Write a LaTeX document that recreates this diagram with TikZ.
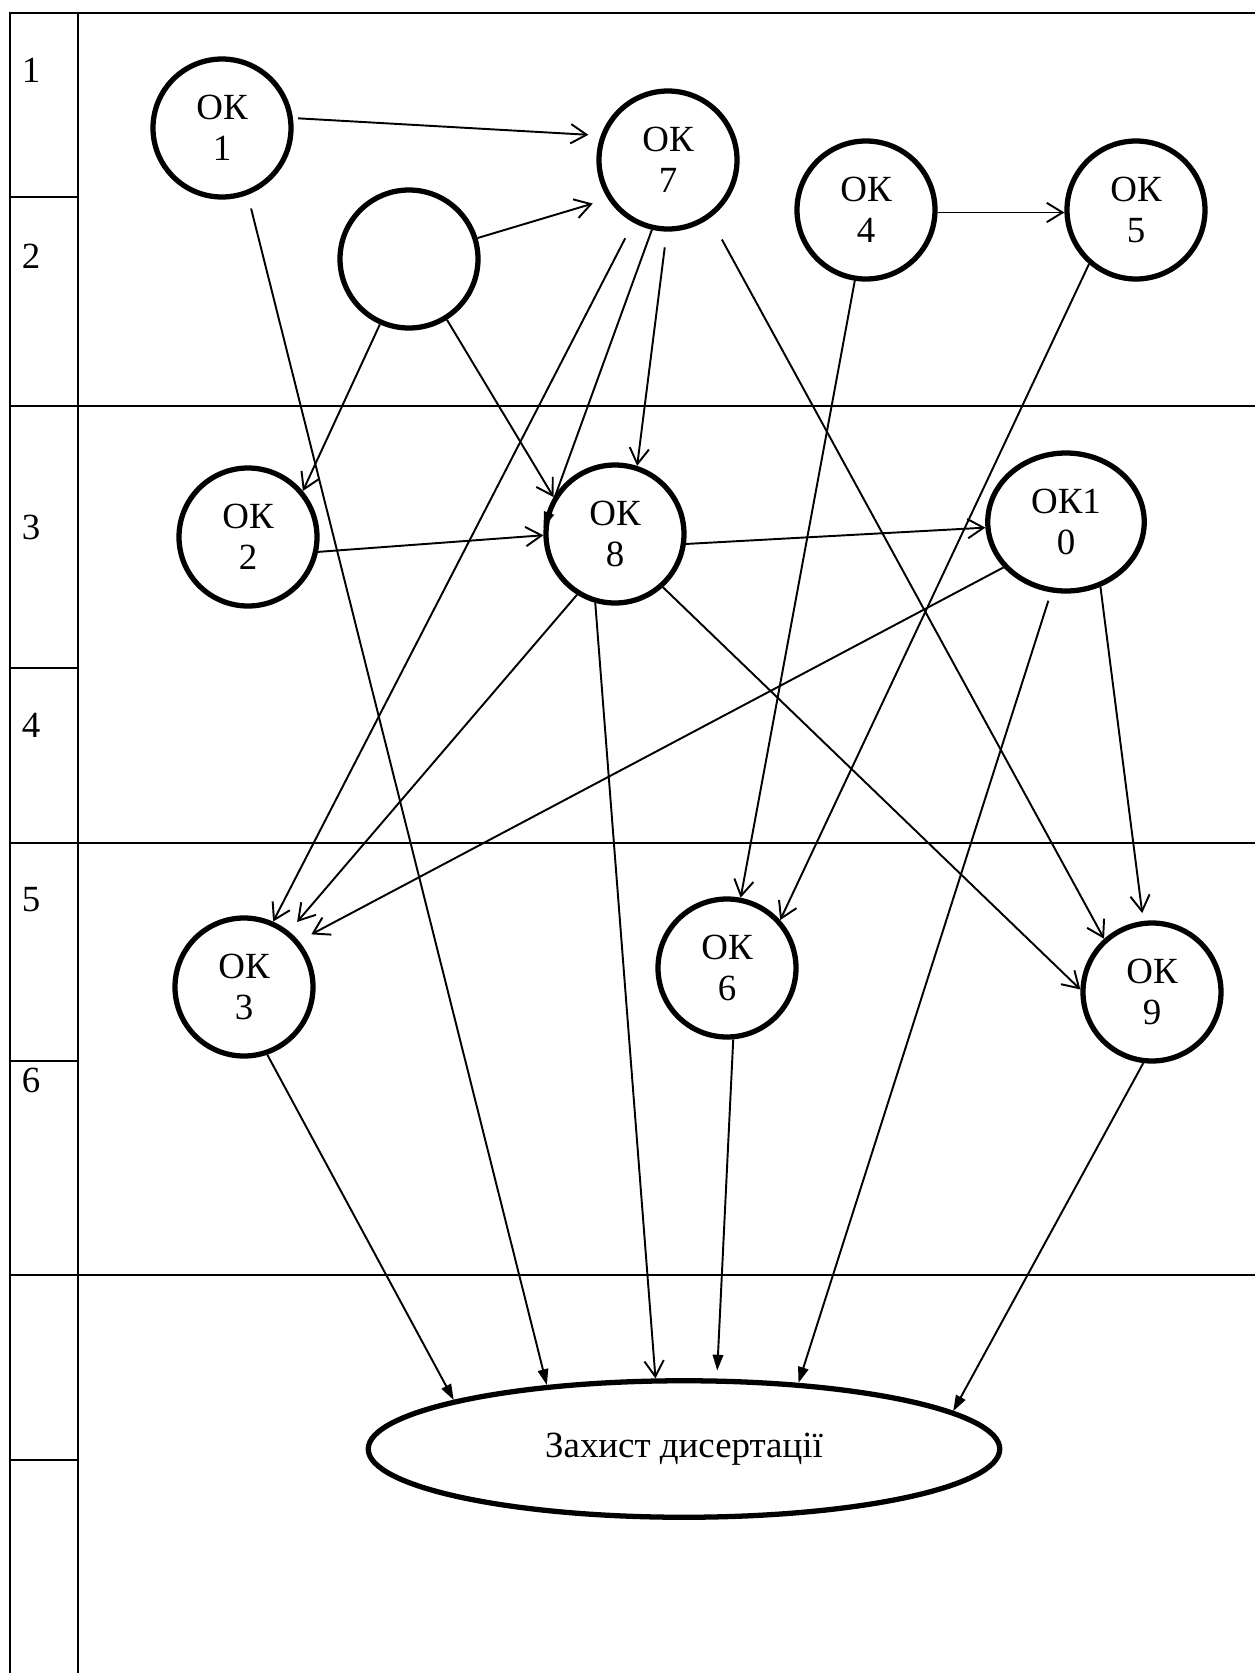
\documentclass[tikz,border=0pt]{standalone}
\usepackage{fontspec}
\setmainfont{Liberation Serif}
\usepackage{tikz}
\usetikzlibrary{arrows.meta,shapes.geometric}

\begin{document}
\begin{tikzpicture}[scale=0.2]
\tikzstyle{every node}+=[inner sep=0pt, font=\fontsize{21}{23.5}\selectfont]
\tikzstyle{ok}=[draw=black, ellipse, line width=3pt, align=center, minimum width=2.76cm, minimum height=2.76cm]
\tikzstyle{tableline}=[black, line width=1.2pt]
\tikzstyle{conn}=[black, line width=1.1pt, -{Straight Barb[length=9pt,width=11pt]}]
\tikzstyle{connf}=[black, line width=1.1pt, -{Triangle[length=9pt,width=6pt]}]
\useasboundingbox (0,0) rectangle (125.5,-167.3);
% table
\draw [tableline] (1.0,-167.3) -- (1.0,-1.3) -- (125.5,-1.3);
\draw [tableline] (7.8,-1.3) -- (7.8,-167.3);
\draw [tableline] (1.0,-40.6) -- (125.5,-40.6);
\draw [tableline] (1.0,-84.3) -- (125.5,-84.3);
\draw [tableline] (1.0,-127.5) -- (125.5,-127.5);
\draw [tableline] (1.0,-19.7) -- (7.8,-19.7);
\draw [tableline] (1.0,-66.8) -- (7.8,-66.8);
\draw [tableline] (1.0,-106.1) -- (7.8,-106.1);
\draw [tableline] (1.0,-146.0) -- (7.8,-146.0);
\node (n1) at (3.1,-7.0) {1};
\node (n2) at (3.1,-25.6) {2};
\node (n3) at (3.1,-52.7) {3};
\node (n4) at (3.1,-72.5) {4};
\node (n5) at (3.1,-90.0) {5};
\node (n6) at (3.1,-108.0) {6};
% components
\node [ok] (ok1) at (22.2,-12.8) {ОК\\1};
\node [ok] (blank) at (40.9,-25.9) {};
\node [ok] (ok7) at (66.8,-16.0) {ОК\\7};
\node [ok] (ok4) at (86.6,-21.0) {ОК\\4};
\node [ok] (ok5) at (113.6,-21.0) {ОК\\5};
\node [ok] (ok2) at (24.8,-53.7) {ОК\\2};
\node [ok] (ok8) at (61.5,-53.4) {ОК\\8};
\node [ok, minimum width=3.13cm] (ok10) at (106.6,-52.2) {ОК1\\0};
\node [ok] (ok3) at (24.4,-98.7) {ОК\\3};
\node [ok] (ok6) at (72.7,-96.8) {ОК\\6};
\node [ok] (ok9) at (115.2,-99.2) {ОК\\9};
\node [ok, minimum width=12.63cm, minimum height=2.73cm] (thesis) at (68.4,-144.9) {Захист дисертації};
% links
\draw [conn, shorten <=3pt, shorten >=7pt] (ok1.8) -- (ok7.160);
\draw [conn, shorten >=9pt] (blank.17) -- (ok7.213);
\draw [conn] (ok4.358) -- (ok5.182);
\draw [connf, shorten <=8pt] (ok1.291) -- (thesis.155);
\draw [conn] (blank.246) -- (ok2.40);
\draw [conn] (blank.302) -- (ok8.149);
\draw [conn, shorten <=10pt] (ok7.241) -- (ok3.66);
\draw [connf] (ok7.257) -- (ok8.175);
\draw [conn, shorten <=9pt] (ok7.269) -- (ok8.72);
\draw [conn, shorten <=14pt] (ok7.306) -- (ok9.132);
\draw [conn] (ok4.261) -- (ok6.79);
\draw [conn] (ok5.229) -- (ok6.42);
\draw [conn] (ok2.348) -- (ok8.181);
\draw [conn] (ok8.352) -- (ok10.184);
\draw [conn, shorten >=7pt] (ok8.238) -- (ok3.51);
\draw [conn] (ok8.254) -- (thesis.112);
\draw [conn] (ok8.312) -- (ok9.178);
\draw [conn, shorten >=8pt] (ok10.216) -- (ok3.40);
\draw [connf, shorten <=5pt] (ok10.258) -- (thesis.30);
\draw [conn, shorten >=4.5pt] (ok10.298) -- (ok9.97);
\draw [connf] (ok3.289) -- (thesis.168);
\draw [connf, shorten >=4.5pt] (ok6.275) -- (thesis.65);
\draw [connf] (ok9.263) -- (thesis.8);
\end{tikzpicture}
\end{document}
